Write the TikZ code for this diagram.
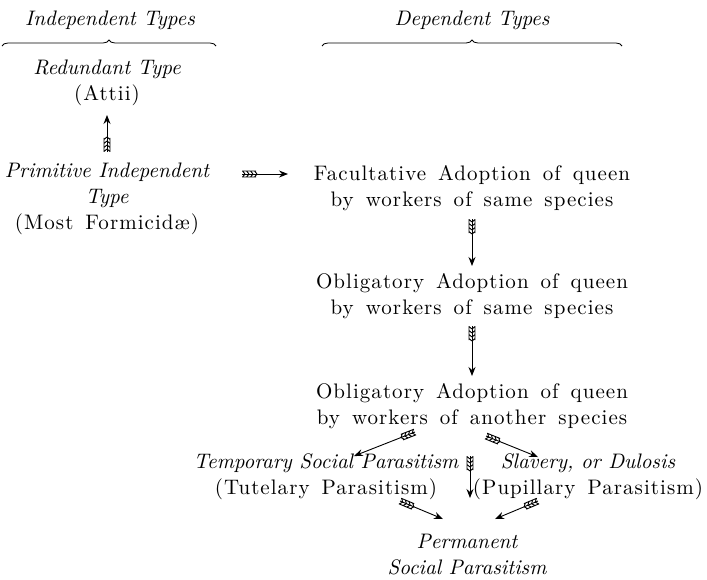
\documentclass[tikz,border=0pt]{standalone}
\usepackage{fontspec}
\setmainfont{lmroman10-regular.otf}[ItalicFont=lmroman10-italic.otf, BoldFont=lmroman10-bold.otf]
\newfontfamily\romwide{lmroman10-regular.otf}[LetterSpace=5]
\newfontfamily\itfam{lmroman10-italic.otf}
\usetikzlibrary{arrows.meta,calc,decorations.pathreplacing,decorations.markings}
\newcommand\romfont{\romwide\fontsize{21}{26}\selectfont\spaceskip 12pt plus 2pt minus 2pt\relax}
\newcommand\itfont{\itfam\fontsize{21}{26}\selectfont\spaceskip 0pt\relax}
\newcommand\itx[1]{{\itfont #1}}
\begin{document}
\begin{tikzpicture}[x=1pt,y=-1pt,
  every node/.style={inner sep=0pt, align=center, font=\romfont},
  itnode/.style={font=\itfont},
  fletch/.style={postaction={decorate,decoration={markings,
      mark=at position 0.01pt with {\draw[line width=0.9pt,-]
        (0,3pt)--(14pt,3pt) (0,-3pt)--(14pt,-3pt)
        (3pt,0)--(0.5pt,3pt) (3pt,0)--(0.5pt,-3pt)
        (7pt,0)--(4.5pt,3pt) (7pt,0)--(4.5pt,-3pt)
        (11pt,0)--(8.5pt,3pt) (11pt,0)--(8.5pt,-3pt)
        (15pt,0)--(12.5pt,3pt) (15pt,0)--(12.5pt,-3pt);}}}},
  fa/.style={line width=0.9pt, -{Stealth[length=9pt,width=7pt,inset=3pt]}, fletch},
  br/.style={decorate, decoration={brace, amplitude=6pt}, line width=0.8pt}]
\useasboundingbox (0,0) rectangle (707,579);
\fill[white] (0,0) rectangle (707,579);

\node[itnode] (indep) at (110,20) {Independent Types};
\node[itnode] (dep) at (472,20) {Dependent Types};
\draw[br] (2,46) -- (216,46);
\draw[br] (322,46) -- (622,46);

\node (red) at (107,83) {\itx{Redundant Type}\\(Attii)};
\node (prim) at (107,199) {\itx{Primitive Independent}\\\itx{Type}\\(Most Formicid\ae)};

\node (fac) at (472,188) {Facultative Adoption of queen\\by workers of same species};
\node (ob1) at (472,296) {Obligatory Adoption of queen\\by workers of same species};
\node (ob2) at (472,406) {Obligatory Adoption of queen\\by workers of another species};
\node (tmp) at (326,477) {\itx{Temporary Social Parasitism}\\(Tutelary Parasitism)};
\node (slv) at (588,477) {\itx{Slavery, or Dulosis}\\(Pupillary Parasitism)};
\node[itnode] (prm) at (467,555) {Permanent\\Social Parasitism};

\draw[fa] ($(prim.center)+(0,-47)$) -- ($(red.center)+(0,32)$);
\draw[fa] ($(prim.center)+(135,-25)$) -- ($(fac.center)+(-184,-14)$);
\draw[fa] ($(fac.center)+(0,31)$) -- ($(ob1.center)+(0,-30)$);
\draw[fa] ($(ob1.center)+(0,30)$) -- ($(ob2.center)+(0,-30)$);
\draw[fa] ($(ob2.center)+(-2,50)$) -- ($(prm.center)+(3,-57)$);
\draw[fa] ($(ob2.center)+(-57,26)$) -- ($(tmp.center)+(28,-21)$);
\draw[fa] ($(ob2.center)+(14,30)$) -- ($(slv.center)+(-50,-20)$);
\draw[fa] ($(tmp.center)+(74,24)$) -- ($(prm.center)+(-24,-36)$);
\draw[fa] ($(slv.center)+(-50,24)$) -- ($(prm.center)+(28,-36)$);
\end{tikzpicture}
\end{document}
